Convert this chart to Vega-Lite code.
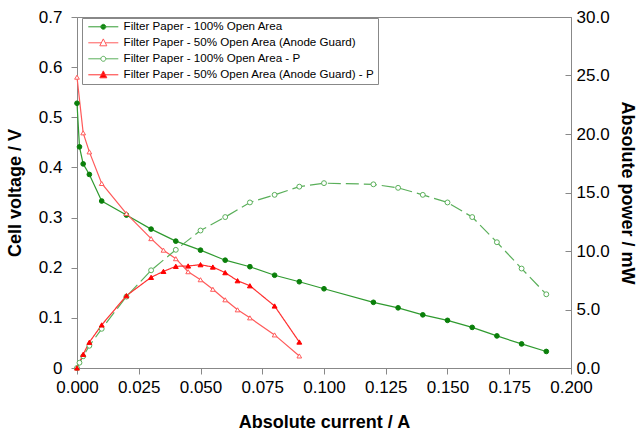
{
  "$schema": "https://vega.github.io/schema/vega-lite/v6.json",
  "width": 494,
  "height": 351,
  "autosize": "none",
  "padding": {"left": 77, "top": 17, "right": 73, "bottom": 63},
  "config": {
    "font": "Liberation Sans",
    "view": {"stroke": "#888888", "strokeWidth": 1},
    "axis": {
      "grid": false,
      "domainColor": "#888888",
      "tickColor": "#888888",
      "tickSize": 6,
      "labelFontSize": 17,
      "labelColor": "#000000",
      "titleFontSize": 18,
      "titleFontWeight": "bold",
      "titleColor": "#000000",
      "labelFlush": false,
      "labelOverlap": false
    }
  },
  "data": {
    "values": [
      {"series": "Filter Paper - 100% Open Area", "kind": "V", "current": 0, "value": 0.528},
      {"series": "Filter Paper - 100% Open Area", "kind": "V", "current": 0.001, "value": 0.441},
      {"series": "Filter Paper - 100% Open Area", "kind": "V", "current": 0.0025, "value": 0.407},
      {"series": "Filter Paper - 100% Open Area", "kind": "V", "current": 0.005, "value": 0.386},
      {"series": "Filter Paper - 100% Open Area", "kind": "V", "current": 0.01, "value": 0.333},
      {"series": "Filter Paper - 100% Open Area", "kind": "V", "current": 0.02, "value": 0.305},
      {"series": "Filter Paper - 100% Open Area", "kind": "V", "current": 0.03, "value": 0.277},
      {"series": "Filter Paper - 100% Open Area", "kind": "V", "current": 0.04, "value": 0.253},
      {"series": "Filter Paper - 100% Open Area", "kind": "V", "current": 0.05, "value": 0.235},
      {"series": "Filter Paper - 100% Open Area", "kind": "V", "current": 0.06, "value": 0.215},
      {"series": "Filter Paper - 100% Open Area", "kind": "V", "current": 0.07, "value": 0.202},
      {"series": "Filter Paper - 100% Open Area", "kind": "V", "current": 0.08, "value": 0.185},
      {"series": "Filter Paper - 100% Open Area", "kind": "V", "current": 0.09, "value": 0.172},
      {"series": "Filter Paper - 100% Open Area", "kind": "V", "current": 0.1, "value": 0.158},
      {"series": "Filter Paper - 100% Open Area", "kind": "V", "current": 0.12, "value": 0.131},
      {"series": "Filter Paper - 100% Open Area", "kind": "V", "current": 0.13, "value": 0.12},
      {"series": "Filter Paper - 100% Open Area", "kind": "V", "current": 0.14, "value": 0.106},
      {"series": "Filter Paper - 100% Open Area", "kind": "V", "current": 0.15, "value": 0.095},
      {"series": "Filter Paper - 100% Open Area", "kind": "V", "current": 0.16, "value": 0.081},
      {"series": "Filter Paper - 100% Open Area", "kind": "V", "current": 0.17, "value": 0.064},
      {"series": "Filter Paper - 100% Open Area", "kind": "V", "current": 0.18, "value": 0.048},
      {"series": "Filter Paper - 100% Open Area", "kind": "V", "current": 0.19, "value": 0.033},

      {"series": "Filter Paper - 50% Open Area (Anode Guard)", "kind": "V", "current": 0, "value": 0.58},
      {"series": "Filter Paper - 50% Open Area (Anode Guard)", "kind": "V", "current": 0.0025, "value": 0.469},
      {"series": "Filter Paper - 50% Open Area (Anode Guard)", "kind": "V", "current": 0.005, "value": 0.431},
      {"series": "Filter Paper - 50% Open Area (Anode Guard)", "kind": "V", "current": 0.01, "value": 0.368},
      {"series": "Filter Paper - 50% Open Area (Anode Guard)", "kind": "V", "current": 0.02, "value": 0.308},
      {"series": "Filter Paper - 50% Open Area (Anode Guard)", "kind": "V", "current": 0.03, "value": 0.258},
      {"series": "Filter Paper - 50% Open Area (Anode Guard)", "kind": "V", "current": 0.035, "value": 0.235},
      {"series": "Filter Paper - 50% Open Area (Anode Guard)", "kind": "V", "current": 0.04, "value": 0.218},
      {"series": "Filter Paper - 50% Open Area (Anode Guard)", "kind": "V", "current": 0.045, "value": 0.192},
      {"series": "Filter Paper - 50% Open Area (Anode Guard)", "kind": "V", "current": 0.05, "value": 0.176},
      {"series": "Filter Paper - 50% Open Area (Anode Guard)", "kind": "V", "current": 0.055, "value": 0.157},
      {"series": "Filter Paper - 50% Open Area (Anode Guard)", "kind": "V", "current": 0.06, "value": 0.136},
      {"series": "Filter Paper - 50% Open Area (Anode Guard)", "kind": "V", "current": 0.065, "value": 0.116},
      {"series": "Filter Paper - 50% Open Area (Anode Guard)", "kind": "V", "current": 0.07, "value": 0.1},
      {"series": "Filter Paper - 50% Open Area (Anode Guard)", "kind": "V", "current": 0.08, "value": 0.066},
      {"series": "Filter Paper - 50% Open Area (Anode Guard)", "kind": "V", "current": 0.09, "value": 0.024},

      {"series": "Filter Paper - 100% Open Area - P", "kind": "P", "current": 0, "value": 0},
      {"series": "Filter Paper - 100% Open Area - P", "kind": "P", "current": 0.001, "value": 0.45},
      {"series": "Filter Paper - 100% Open Area - P", "kind": "P", "current": 0.0025, "value": 1.0},
      {"series": "Filter Paper - 100% Open Area - P", "kind": "P", "current": 0.005, "value": 1.9},
      {"series": "Filter Paper - 100% Open Area - P", "kind": "P", "current": 0.01, "value": 3.35},
      {"series": "Filter Paper - 100% Open Area - P", "kind": "P", "current": 0.02, "value": 6.1},
      {"series": "Filter Paper - 100% Open Area - P", "kind": "P", "current": 0.03, "value": 8.35},
      {"series": "Filter Paper - 100% Open Area - P", "kind": "P", "current": 0.04, "value": 10.1},
      {"series": "Filter Paper - 100% Open Area - P", "kind": "P", "current": 0.05, "value": 11.75},
      {"series": "Filter Paper - 100% Open Area - P", "kind": "P", "current": 0.06, "value": 12.9},
      {"series": "Filter Paper - 100% Open Area - P", "kind": "P", "current": 0.07, "value": 14.15},
      {"series": "Filter Paper - 100% Open Area - P", "kind": "P", "current": 0.08, "value": 14.8},
      {"series": "Filter Paper - 100% Open Area - P", "kind": "P", "current": 0.09, "value": 15.5},
      {"series": "Filter Paper - 100% Open Area - P", "kind": "P", "current": 0.1, "value": 15.8},
      {"series": "Filter Paper - 100% Open Area - P", "kind": "P", "current": 0.12, "value": 15.7},
      {"series": "Filter Paper - 100% Open Area - P", "kind": "P", "current": 0.13, "value": 15.4},
      {"series": "Filter Paper - 100% Open Area - P", "kind": "P", "current": 0.14, "value": 14.8},
      {"series": "Filter Paper - 100% Open Area - P", "kind": "P", "current": 0.15, "value": 14.15},
      {"series": "Filter Paper - 100% Open Area - P", "kind": "P", "current": 0.16, "value": 12.9},
      {"series": "Filter Paper - 100% Open Area - P", "kind": "P", "current": 0.17, "value": 10.75},
      {"series": "Filter Paper - 100% Open Area - P", "kind": "P", "current": 0.18, "value": 8.5},
      {"series": "Filter Paper - 100% Open Area - P", "kind": "P", "current": 0.19, "value": 6.3},

      {"series": "Filter Paper - 50% Open Area (Anode Guard) - P", "kind": "P", "current": 0, "value": 0},
      {"series": "Filter Paper - 50% Open Area (Anode Guard) - P", "kind": "P", "current": 0.0025, "value": 1.17},
      {"series": "Filter Paper - 50% Open Area (Anode Guard) - P", "kind": "P", "current": 0.005, "value": 2.2},
      {"series": "Filter Paper - 50% Open Area (Anode Guard) - P", "kind": "P", "current": 0.01, "value": 3.68},
      {"series": "Filter Paper - 50% Open Area (Anode Guard) - P", "kind": "P", "current": 0.02, "value": 6.18},
      {"series": "Filter Paper - 50% Open Area (Anode Guard) - P", "kind": "P", "current": 0.03, "value": 7.75},
      {"series": "Filter Paper - 50% Open Area (Anode Guard) - P", "kind": "P", "current": 0.035, "value": 8.26},
      {"series": "Filter Paper - 50% Open Area (Anode Guard) - P", "kind": "P", "current": 0.04, "value": 8.69},
      {"series": "Filter Paper - 50% Open Area (Anode Guard) - P", "kind": "P", "current": 0.045, "value": 8.72},
      {"series": "Filter Paper - 50% Open Area (Anode Guard) - P", "kind": "P", "current": 0.05, "value": 8.83},
      {"series": "Filter Paper - 50% Open Area (Anode Guard) - P", "kind": "P", "current": 0.055, "value": 8.63},
      {"series": "Filter Paper - 50% Open Area (Anode Guard) - P", "kind": "P", "current": 0.06, "value": 8.15},
      {"series": "Filter Paper - 50% Open Area (Anode Guard) - P", "kind": "P", "current": 0.065, "value": 7.46},
      {"series": "Filter Paper - 50% Open Area (Anode Guard) - P", "kind": "P", "current": 0.07, "value": 7.03},
      {"series": "Filter Paper - 50% Open Area (Anode Guard) - P", "kind": "P", "current": 0.08, "value": 5.3},
      {"series": "Filter Paper - 50% Open Area (Anode Guard) - P", "kind": "P", "current": 0.09, "value": 2.22}
    ]
  },
  "encoding": {
    "x": {
      "field": "current",
      "type": "quantitative",
      "scale": {"domain": [0, 0.2], "nice": false},
      "axis": {
        "title": "Absolute current / A",
        "values": [0, 0.025, 0.05, 0.075, 0.1, 0.125, 0.15, 0.175, 0.2],
        "format": ".3f",
        "labelPadding": 5,
        "titlePadding": 18
      }
    }
  },
  "layer": [
    {
      "transform": [{"filter": "datum.kind === 'V'"}],
      "encoding": {
        "y": {
          "field": "value",
          "type": "quantitative",
          "scale": {"domain": [0, 0.7], "nice": false},
          "axis": {
            "orient": "left",
            "title": "Cell voltage / V",
            "values": [0, 0.1, 0.2, 0.3, 0.4, 0.5, 0.6, 0.7],
            "labelExpr": "datum.value == 0 ? '0' : format(datum.value, '.1f')",
            "labelPadding": 9,
            "titlePadding": 14
          }
        }
      },
      "layer": [
        {
          "mark": {"type": "line", "strokeWidth": 1.2},
          "encoding": {
            "color": {
              "field": "series",
              "type": "nominal",
              "scale": {
                "domain": [
                  "Filter Paper - 100% Open Area",
                  "Filter Paper - 50% Open Area (Anode Guard)",
                  "Filter Paper - 100% Open Area - P",
                  "Filter Paper - 50% Open Area (Anode Guard) - P"
                ],
                "range": ["#2f9a2f", "#ff5a5a", "#5aaf5a", "#ff3030"]
              },
              "legend": {
                "title": null,
                "orient": "none",
                "legendX": 5,
                "legendY": 1,
                "strokeColor": "#888888",
                "fillColor": "#ffffff",
                "padding": 3,
                "symbolSize": 36,
                "symbolStrokeWidth": 1,
                "symbolOffset": 0,
                "labelOffset": 27,
                "labelFontSize": 11.6,
                "labelColor": "#000000",
                "labelLimit": 400,
                "rowPadding": 3,
                "encode": {
                  "symbols": {
                    "update": {
                      "shape": {"signal": "datum.value == 'Filter Paper - 100% Open Area' ? 'M-0.83,0H9.17M3.34,0A0.83,0.83,0,1,1,5,0A0.83,0.83,0,1,1,3.34,0Z' : datum.value == 'Filter Paper - 50% Open Area (Anode Guard)' ? 'M-0.83,0H3.5M4.84,0H9.17M4.17,-1.3L5.34,1L3,1Z' : datum.value == 'Filter Paper - 100% Open Area - P' ? 'M-0.83,0H3.34M5,0H9.17M3.34,0A0.83,0.83,0,1,1,5,0A0.83,0.83,0,1,1,3.34,0Z' : 'M-0.83,0H9.17M4.17,-1.3L5.34,1L3,1Z'"},
                      "fill": {"signal": "datum.value == 'Filter Paper - 100% Open Area' ? '#0a7f0a' : datum.value == 'Filter Paper - 50% Open Area (Anode Guard) - P' ? '#ff0000' : '#ffffff'"},
                      "stroke": {"signal": "datum.value == 'Filter Paper - 100% Open Area' ? '#2f9a2f' : datum.value == 'Filter Paper - 50% Open Area (Anode Guard)' ? '#ff5a5a' : datum.value == 'Filter Paper - 100% Open Area - P' ? '#5aaf5a' : '#ff3030'"},
                      "strokeDash": {"value": []},
                      "opacity": {"value": 1}
                    }
                  }
                }
              }
            }
          }
        },
        {
          "mark": {"type": "point", "filled": true, "strokeWidth": 1, "opacity": 1},
          "encoding": {
            "shape": {
              "field": "series",
              "type": "nominal",
              "scale": {
                "domain": ["Filter Paper - 100% Open Area", "Filter Paper - 50% Open Area (Anode Guard)"],
                "range": ["circle", "triangle-up"]
              },
              "legend": null
            },
            "fill": {
              "field": "series",
              "type": "nominal",
              "scale": {
                "domain": ["Filter Paper - 100% Open Area", "Filter Paper - 50% Open Area (Anode Guard)"],
                "range": ["#0a7f0a", "#ffffff"]
              },
              "legend": null
            },
            "stroke": {
              "field": "series",
              "type": "nominal",
              "scale": {
                "domain": ["Filter Paper - 100% Open Area", "Filter Paper - 50% Open Area (Anode Guard)"],
                "range": ["#0a7f0a", "#ff5a5a"]
              },
              "legend": null
            },
            "size": {"value": 22}
          }
        }
      ]
    },
    {
      "transform": [{"filter": "datum.kind === 'P'"}],
      "encoding": {
        "y": {
          "field": "value",
          "type": "quantitative",
          "scale": {"domain": [0, 30], "nice": false},
          "axis": {
            "orient": "right",
            "title": "Absolute power / mW",
            "values": [0, 5, 10, 15, 20, 25, 30],
            "format": ".1f",
            "tickSize": -6,
            "labelPadding": 11,
            "titlePadding": 8
          }
        }
      },
      "layer": [
        {
          "mark": {"type": "line", "strokeWidth": 1.2},
          "encoding": {
            "color": {"field": "series", "type": "nominal"},
            "strokeDash": {
              "field": "series",
              "type": "nominal",
              "scale": {
                "domain": ["Filter Paper - 100% Open Area - P", "Filter Paper - 50% Open Area (Anode Guard) - P"],
                "range": [[13, 5], [1, 0]]
              },
              "legend": null
            }
          }
        },
        {
          "mark": {"type": "point", "filled": true, "strokeWidth": 1, "opacity": 1},
          "encoding": {
            "shape": {
              "field": "series",
              "type": "nominal",
              "scale": {
                "domain": ["Filter Paper - 100% Open Area - P", "Filter Paper - 50% Open Area (Anode Guard) - P"],
                "range": ["circle", "triangle-up"]
              },
              "legend": null
            },
            "fill": {
              "field": "series",
              "type": "nominal",
              "scale": {
                "domain": ["Filter Paper - 100% Open Area - P", "Filter Paper - 50% Open Area (Anode Guard) - P"],
                "range": ["#ffffff", "#ff0000"]
              },
              "legend": null
            },
            "stroke": {
              "field": "series",
              "type": "nominal",
              "scale": {
                "domain": ["Filter Paper - 100% Open Area - P", "Filter Paper - 50% Open Area (Anode Guard) - P"],
                "range": ["#5aaf5a", "#ff0000"]
              },
              "legend": null
            },
            "size": {"value": 24}
          }
        }
      ]
    }
  ],
  "resolve": {"scale": {"y": "independent", "shape": "independent", "fill": "independent", "stroke": "independent", "strokeDash": "independent"}}
}
